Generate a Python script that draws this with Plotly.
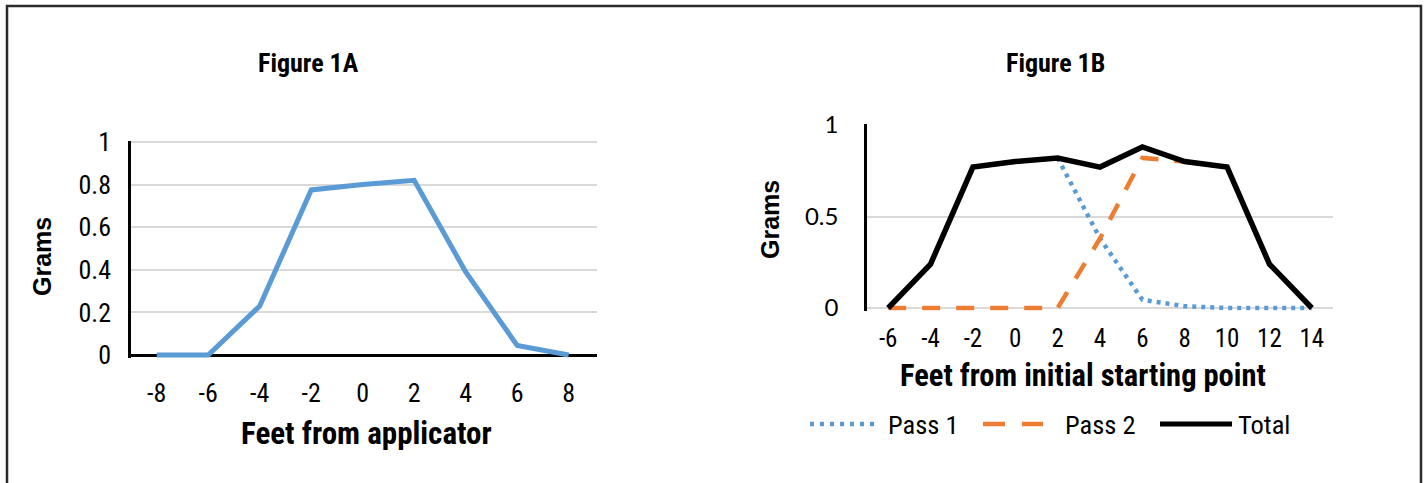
import plotly.graph_objects as go

W, H = 1426, 483

# ---- data ----
feet_a = [-8, -6, -4, -2, 0, 2, 4, 6, 8]
grams_a = [0.0, 0.0, 0.23, 0.775, 0.80, 0.82, 0.39, 0.045, 0.0]

feet_b = [-6, -4, -2, 0, 2, 4, 6, 8, 10, 12, 14]
pass1 = [0.0, 0.24, 0.77, 0.80, 0.82, 0.38, 0.045, 0.01, 0.0, 0.0, 0.0]
pass2 = [0.0, 0.0, 0.0, 0.0, 0.0, 0.38, 0.82, 0.80, 0.77, 0.24, 0.0]
total = [0.0, 0.24, 0.77, 0.80, 0.82, 0.77, 0.88, 0.80, 0.77, 0.24, 0.0]

series_names = ["Pass 1", "Pass 2", "Total"]

ticks_a_x_text = ["-8", "-6", "-4", "-2", "0", "2", "4", "6", "8"]
ticks_b_x_text = ["-6", "-4", "-2", "0", "2", "4", "6", "8", "10", "12", "14"]
ticks_a_y = [0, 0.2, 0.4, 0.6, 0.8, 1]
ticks_a_y_text = ["0", "0.2", "0.4", "0.6", "0.8", "1"]
ticks_b_y = [0, 0.5, 1]
ticks_b_y_text = ["0", "0.5", "1"]

NARROW = "Roboto Condensed, Noto Sans Condensed, Liberation Sans Narrow, DejaVu Sans Condensed, sans-serif"
BOLD = "Liberation Sans, Arial, sans-serif"
GRID = "#d9d9d9"
BLUE, ORANGE, BLACK = "#5b9bd5", "#ed7d31", "#000000"
styles = [
    dict(color=BLUE, width=4.5, dash="4px,5px"),
    dict(color=ORANGE, width=4.5, dash="18px,16px"),
    dict(color=BLACK, width=5.5),
]

def px(x):
    return x / W

def py(y):
    return (H - y) / H

fig = go.Figure()

fig.add_trace(go.Scatter(x=feet_a, y=grams_a, mode="lines", xaxis="x", yaxis="y",
                         line=dict(color=BLUE, width=5), showlegend=False))

for name, vals, st in zip(series_names, [pass1, pass2, total], styles):
    fig.add_trace(go.Scatter(x=feet_b, y=vals, mode="lines", xaxis="x2", yaxis="y2",
                             name=name, line=st, showlegend=False))

# axis geometry (pixels)
a_left, a_right = 131, 597
a_y0 = 355 + 0.015 * 213
a_y1 = 142 - 0.005 * 213
b_left, b_right = 867, 1333
b_y0 = 308 + 0.015 * 183
b_y1 = 125 - 0.005 * 183

fig.update_layout(
    width=W, height=H, autosize=False,
    margin=dict(l=0, r=0, t=0, b=0, pad=0),
    paper_bgcolor="white", plot_bgcolor="white",
    font=dict(family=NARROW, color="#000000", size=26),
    xaxis=dict(domain=[px(a_left), px(a_right)], range=[-9, 9.1],
               tickvals=feet_a, ticktext=ticks_a_x_text, showgrid=False, zeroline=False, showline=False,
               ticks="", ticklabelstandoff=17, tickfont=dict(size=26, family=NARROW),
               anchor="y", fixedrange=True, automargin=False),
    yaxis=dict(domain=[py(a_y0), py(a_y1)], range=[-0.015, 1.005],
               tickvals=ticks_a_y, ticktext=ticks_a_y_text,
               showgrid=True, gridcolor=GRID, gridwidth=2,
               zeroline=True, zerolinecolor="#000000", zerolinewidth=2.5,
               showline=True, linecolor="#000000", linewidth=2.5,
               ticks="", ticklabelstandoff=12, tickfont=dict(size=26, family=NARROW),
               anchor="x", fixedrange=True, automargin=False),
    xaxis2=dict(domain=[px(b_left), px(b_right)], range=[-7, 15],
                tickvals=feet_b, ticktext=ticks_b_x_text, showgrid=False, zeroline=False, showline=False,
                ticks="", ticklabelstandoff=10, tickfont=dict(size=25, family=NARROW),
                anchor="y2", fixedrange=True, automargin=False),
    yaxis2=dict(domain=[py(b_y0), py(b_y1)], range=[-0.015, 1.005],
                tickvals=ticks_b_y, ticktext=ticks_b_y_text,
                showgrid=True, gridcolor=GRID, gridwidth=2,
                zeroline=True, zerolinecolor=GRID, zerolinewidth=2,
                showline=True, linecolor="#000000", linewidth=2.5,
                ticks="", ticklabelstandoff=21, tickfont=dict(size=24, family="Lato, Open Sans, sans-serif"),
                anchor="x2", fixedrange=True, automargin=False),
    showlegend=False,
)

annos = [
    dict(text="<b>Figure 1A</b>", x=px(308), y=py(63), font=dict(size=26, family=NARROW)),
    dict(text="<b>Figure 1B</b>", x=px(1055), y=py(63), font=dict(size=26, family=NARROW)),
    dict(text="<b>Feet from applicator</b>", x=px(367), y=py(433), font=dict(size=31, family=NARROW)),
    dict(text="<b>Feet from initial starting point</b>", x=px(1083), y=py(375), font=dict(size=30.5, family=NARROW)),
    dict(text="<b>Grams</b>", x=px(42), y=py(257), textangle=-90, font=dict(size=25, family=BOLD)),
    dict(text="<b>Grams</b>", x=px(770), y=py(220), textangle=-90, font=dict(size=25, family=BOLD)),
]
for a in annos:
    a.update(xanchor="center")

# legend (key samples + labels)
leg_y = 424
leg_keys = [(810, 880, 886), (983, 1043, 1063), (1160, 1232, 1236)]
leg_styles = [
    dict(color=BLUE, width=4.5, dash="4px,6px"),
    dict(color=ORANGE, width=4.5, dash="22px,17px"),
    dict(color=BLACK, width=5),
]
for (k0, k1, tx), name, st in zip(leg_keys, series_names, leg_styles):
    fig.add_shape(type="line", xref="paper", yref="paper", x0=px(k0), x1=px(k1),
                  y0=py(leg_y), y1=py(leg_y), line=st)
    annos.append(dict(text=name, x=px(tx), y=py(leg_y), xanchor="left",
                      font=dict(size=26.5, family=NARROW)))

for a in annos:
    a.update(xref="paper", yref="paper", showarrow=False, yanchor="middle")
fig.update_layout(annotations=annos)

fig.add_shape(type="rect", xref="paper", yref="paper",
              x0=px(7), x1=px(1421), y0=-0.05, y1=py(6),
              line=dict(color="#2b2b2b", width=2.5), fillcolor="rgba(0,0,0,0)", layer="above")

fig.write_html("out.html", config={"displayModeBar": False},
               post_script="document.body.style.margin='0';document.body.style.overflow='hidden';")
